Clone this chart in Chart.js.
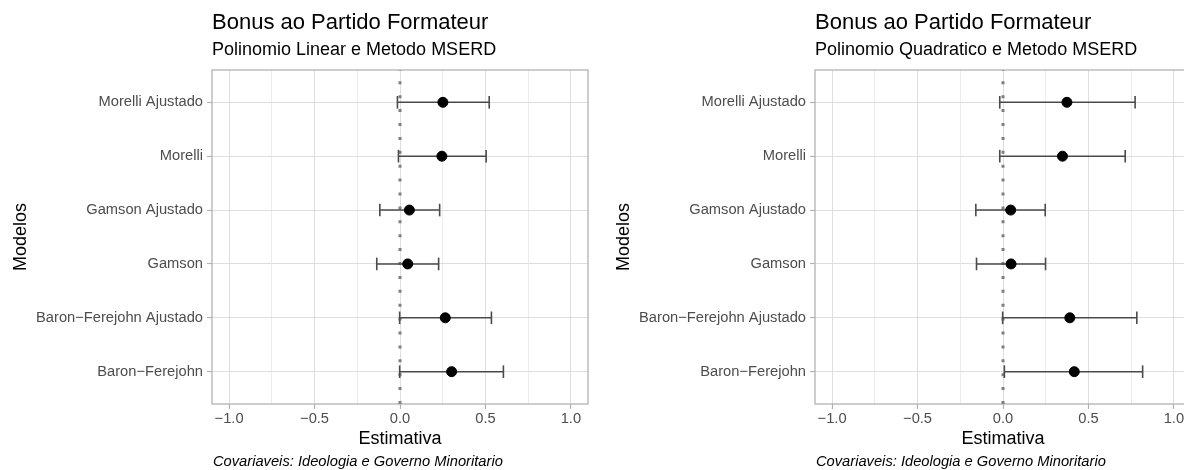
<!DOCTYPE html>
<html>
<head>
<meta charset="utf-8">
<script src="https://cdn.jsdelivr.net/npm/chart.js@4.4.1/dist/chart.umd.min.js"></script>
<style>
  body { margin: 0; width: 1184px; height: 470px; overflow: hidden; background: #fff; position: relative; }
  canvas { position: absolute; top: 0; }
</style>
</head>
<body>
<canvas id="linear" width="600" height="470" style="left:0"></canvas>
<canvas id="quadratic" width="600" height="470" style="left:603px"></canvas>
<script>
var modelos = ["Morelli Ajustado", "Morelli", "Gamson Ajustado", "Gamson", "Baron\u2212Ferejohn Ajustado", "Baron\u2212Ferejohn"];
var xTicks = [-1, -0.75, -0.5, -0.25, 0, 0.25, 0.5, 0.75, 1];

// polinomio linear
var linEst = [0.251, 0.245, 0.055, 0.045, 0.265, 0.302];
var linLow = [-0.015, -0.009, -0.118, -0.136, -0.002, -0.002];
var linHigh = [0.522, 0.504, 0.232, 0.226, 0.535, 0.605];

// polinomio quadratico
var quadEst = [0.374, 0.348, 0.045, 0.047, 0.391, 0.417];
var quadLow = [-0.019, -0.019, -0.159, -0.155, -0.002, 0.008];
var quadHigh = [0.773, 0.715, 0.247, 0.249, 0.783, 0.817];

var caption = "Covariaveis: Ideologia e Governo Minoritario";
var fontFamily = "'Liberation Sans', Arial, sans-serif";
var barColor = '#4a4a4a';

// panel border + caption, like ggplot theme_light
var panelBorder = {
    id: 'panelBorder',
    beforeDatasetsDraw(chart) {
        var a = chart.chartArea, ctx = chart.ctx;
        ctx.save();
        ctx.strokeStyle = '#b3b3b3';
        ctx.lineWidth = 1.3;
        ctx.strokeRect(a.left, a.top, a.right - a.left, a.bottom - a.top);
        ctx.restore();
    },
    afterDraw(chart) {
        var ctx = chart.ctx;
        ctx.save();
        ctx.font = "italic 14.7px " + fontFamily;
        ctx.fillStyle = '#000';
        ctx.textAlign = 'left';
        ctx.textBaseline = 'middle';
        ctx.fillText(caption, chart.chartArea.left + 1, 462);
        ctx.restore();
    }
};

function isMajor(v) {
    return Math.abs(v * 2 - Math.round(v * 2)) < 1e-9;
}

function buildChart(canvasId, subtitle, est, low, high) {
    var datasets = [];

    datasets.push({
        label: 'Estimativa',
        data: est.map((v, i) => ({x: v, y: i + 1})),
        pointRadius: 5,
        backgroundColor: '#000',
        borderColor: '#000',
        borderWidth: 1,
        order: 0
    });

    // one segment for each interval
    for (let i = 0; i < modelos.length; i++) {
        datasets.push({
            label: 'IC ' + modelos[i],
            data: [{x: low[i], y: i + 1}, {x: high[i], y: i + 1}],
            showLine: true,
            pointRadius: 0,
            borderColor: barColor,
            borderWidth: 1.6,
            order: 1
        });
    }

    // caps at both ends
    datasets.push({
        label: 'caps',
        data: low.map((v, i) => ({x: v, y: i + 1})).concat(high.map((v, i) => ({x: v, y: i + 1}))),
        pointStyle: 'line',
        rotation: 90,
        pointRadius: 6.3,
        borderColor: barColor,
        borderWidth: 1.6,
        order: 1
    });

    datasets.push({
        label: 'zero',
        data: [{x: 0, y: 6.6}, {x: 0, y: 0.4}],
        showLine: true,
        pointRadius: 0,
        borderColor: '#7f7f7f',
        borderWidth: 3,
        borderDash: [3, 10.9],
        order: 2
    });

    var config = {
        type: 'scatter',
        data: {datasets: datasets},
        plugins: [panelBorder],
        options: {
            responsive: false,
            animation: false,
            events: [],
            layout: {padding: {left: 0, right: 12, top: 0, bottom: 20}},
            plugins: {
                legend: {display: false},
                tooltip: {enabled: false},
                title: {
                    display: true, text: 'Bonus ao Partido Formateur', align: 'start', fullSize: false,
                    color: '#000', font: {family: fontFamily, size: 22, weight: 'normal'},
                    padding: {top: 10, bottom: 0}
                },
                subtitle: {
                    display: true, text: subtitle, align: 'start', fullSize: false,
                    color: '#000', font: {family: fontFamily, size: 18, weight: 'normal'},
                    padding: {top: 3, bottom: 9}
                }
            },
            scales: {
                x: {
                    type: 'linear', min: -1.1, max: 1.1,
                    afterBuildTicks: (s) => { s.ticks = xTicks.map(v => ({value: v})); },
                    afterFit: (s) => { s.height = 46; },
                    border: {display: false},
                    grid: {
                        color: (c) => isMajor(c.tick.value) ? '#dedede' : '#ececec',
                        lineWidth: 1,
                        tickLength: 5,
                        tickWidth: 1.2,
                        tickColor: (c) => isMajor(c.tick.value) ? '#b3b3b3' : 'rgba(0,0,0,0)'
                    },
                    ticks: {
                        autoSkip: false, maxRotation: 0, padding: 1, color: '#4d4d4d',
                        font: {family: fontFamily, size: 14.7},
                        callback: (v) => isMajor(v) ? v.toFixed(1).replace('-', '\u2212') : ''
                    },
                    title: {
                        display: true, text: 'Estimativa', color: '#000',
                        font: {family: fontFamily, size: 18}, padding: {top: 0, bottom: 0}
                    }
                },
                y: {
                    type: 'linear', min: 0.4, max: 6.6, reverse: true,
                    afterBuildTicks: (s) => { s.ticks = modelos.map((m, i) => ({value: i + 1})); },
                    afterFit: (s) => { s.width = 212; },
                    border: {display: false},
                    grid: {color: '#dedede', lineWidth: 1, tickLength: 5, tickWidth: 1.2, tickColor: '#b3b3b3'},
                    ticks: {
                        autoSkip: false, padding: 4, color: '#4d4d4d',
                        font: {family: fontFamily, size: 14.7},
                        callback: (v) => modelos[v - 1]
                    },
                    title: {
                        display: true, text: 'Modelos', color: '#000',
                        font: {family: fontFamily, size: 18}, padding: {top: 10, bottom: 0}
                    }
                }
            }
        }
    };

    return new Chart(document.getElementById(canvasId), config);
}

buildChart('linear', 'Polinomio Linear e Metodo MSERD', linEst, linLow, linHigh);
buildChart('quadratic', 'Polinomio Quadratico e Metodo MSERD', quadEst, quadLow, quadHigh);
</script>
</body>
</html>
